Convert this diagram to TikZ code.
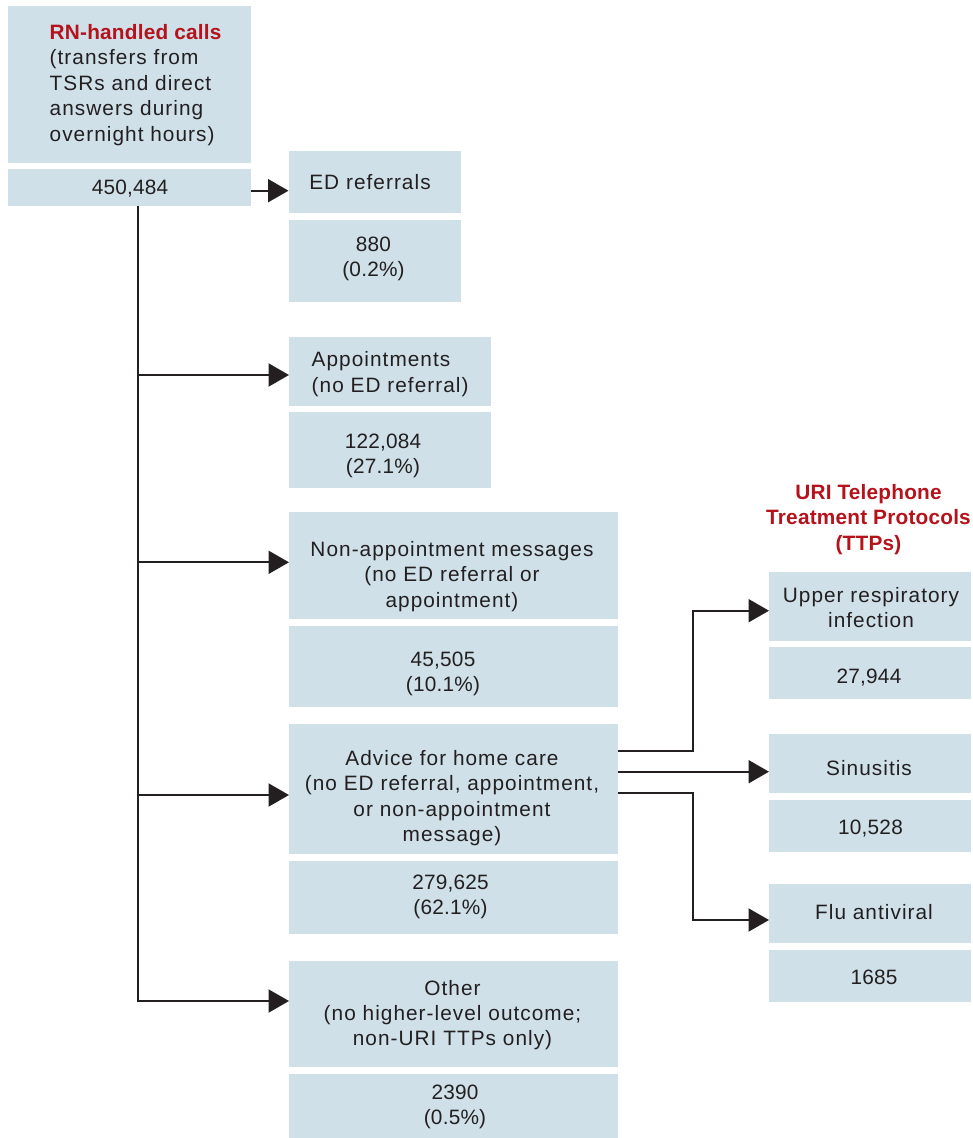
\documentclass[tikz,border=0pt]{standalone}
\usepackage{fontspec}
\usepackage{xcolor}
\usetikzlibrary{arrows.meta}
\setmainfont{Liberation Sans}
\newfontfamily\regf{Liberation Sans}[LetterSpace=5.0]
\newfontfamily\numf{Liberation Sans}[LetterSpace=1.0]
\newfontfamily\boldf{Liberation Sans}[LetterSpace=1.0]
\newcommand\fsz{\fontsize{20.8}{25.4}\selectfont}
\definecolor{ink}{RGB}{35,31,32}
\definecolor{boxblue}{RGB}{207,224,232}
\definecolor{headred}{RGB}{181,18,27}
\begin{document}
\begin{tikzpicture}[x=1pt,y=-1pt,
  box/.style={fill=boxblue, draw=none, inner sep=0pt, outer sep=0pt, anchor=north west},
  txt/.style={text=ink, inner sep=0pt, align=center, font=\regf\fsz},
  numtxt/.style={text=ink, inner sep=0pt, align=center, font=\numf\fsz},
  conn/.style={draw=ink, line width=2.1pt, -{Triangle[length=20.5pt,width=23pt]}}]
\useasboundingbox (0,0) rectangle (972,1138);

% boxes
\node[box, minimum width=242.7pt, minimum height=156.7pt] (top)  at (8,6) {};
\node[box, minimum width=242.7pt, minimum height=36.4pt]  (num0) at (8,169.3) {};
\node[box, minimum width=172.5pt, minimum height=62.3pt]  (ed)   at (288.5,151) {};
\node[box, minimum width=172.5pt, minimum height=81.7pt]  (edn)  at (288.5,220) {};
\node[box, minimum width=201.7pt, minimum height=69pt]    (ap)   at (289,336.7) {};
\node[box, minimum width=201.7pt, minimum height=75.4pt]  (apn)  at (289,412.3) {};
\node[box, minimum width=329pt, minimum height=107pt]     (na)   at (289,512) {};
\node[box, minimum width=329pt, minimum height=81.3pt]    (nan)  at (289,626) {};
\node[box, minimum width=329pt, minimum height=130.3pt]   (ad)   at (289,724) {};
\node[box, minimum width=329pt, minimum height=73pt]      (adn)  at (289,861) {};
\node[box, minimum width=329pt, minimum height=105.8pt]   (ot)   at (289,960.7) {};
\node[box, minimum width=329pt, minimum height=64.5pt]    (otn)  at (289,1073.5) {};
\node[box, minimum width=202pt, minimum height=69pt]      (ur)   at (769,571.7) {};
\node[box, minimum width=202pt, minimum height=52pt]      (urn)  at (769,647.3) {};
\node[box, minimum width=202pt, minimum height=59pt]      (si)   at (769,734) {};
\node[box, minimum width=202pt, minimum height=52pt]      (sin)  at (769,800) {};
\node[box, minimum width=202pt, minimum height=59pt]      (fl)   at (769,884) {};
\node[box, minimum width=202pt, minimum height=52pt]      (fln)  at (769,950) {};

% texts
\node[txt, align=left, anchor=west] (toptxt) at (49.5,85.3)
  {\strut{\boldf\bfseries\color{headred}RN-handled calls}\\(transfers from\\TSRs and direct\\answers during\\overnight hours)\strut};
\node[numtxt] (num0txt) at (130,189.9) {\strut 450,484\strut};
\node[txt] (edtxt) at (370,184.9) {\strut ED referrals\strut};
\node[numtxt] (edntxt) at (373.5,258.8) {\strut 880\\(0.2\%)\strut};
\node[txt, align=left, anchor=west] (aptxt) at (311.5,374.6) {\strut Appointments\\(no ED referral)\strut};
\node[numtxt] (apntxt) at (383,456.1) {\strut 122,084\\(27.1\%)\strut};
\node[txt] (natxt) at (452,576.6) {\strut Non-appointment messages\\(no ED referral or\\appointment)\strut};
\node[numtxt] (nantxt) at (443,673.8) {\strut 45,505\\(10.1\%)\strut};
\node[txt] (adtxt) at (452,798.3) {\strut Advice for home care\\(no ED referral, appointment,\\or non-appointment\\message)\strut};
\node[numtxt] (adntxt) at (450.5,896.9) {\strut 279,625\\(62.1\%)\strut};
\node[txt] (ottxt) at (452.5,1015.4) {\strut Other\\(no higher-level outcome;\\non-URI TTPs only)\strut};
\node[numtxt] (otntxt) at (455,1107) {\strut 2390\\(0.5\%)\strut};
\node[txt, font=\boldf\bfseries\fsz, text=headred] (uri) at (868.5,519.9)
  {\strut URI Telephone\\Treatment Protocols\\(TTPs)\strut};
\node[txt] (urtxt) at (871,610.2) {\strut Upper respiratory\\infection\strut};
\node[numtxt] (urntxt) at (869,678.2) {\strut 27,944\strut};
\node[txt] (sitxt) at (869,770.6) {\strut Sinusitis\strut};
\node[numtxt] (sintxt) at (870.5,829.2) {\strut 10,528\strut};
\node[txt] (fltxt) at (874,914.2) {\strut Flu antiviral\strut};
\node[numtxt] (flntxt) at (874,979.9) {\strut 1685\strut};

% connectors, left
\coordinate (trunk) at ([xshift=8.95pt]num0.south);
\coordinate (bap) at ([yshift=-3.8pt]ap.west);
\coordinate (bna) at ([yshift=3.2pt]na.west);
\coordinate (bad) at ([yshift=-5.85pt]ad.west);
\coordinate (bot) at ([yshift=12.6pt]ot.west);
\draw[conn] ([yshift=-3.2pt]num0.east) -- ([yshift=-3.2pt]num0.east -| ed.west);
\draw[conn] (trunk) |- (bot);
\draw[conn] (trunk |- bap) -- (bap);
\draw[conn] (trunk |- bna) -- (bna);
\draw[conn] (trunk |- bad) -- (bad);

% connectors, right
\draw[conn] ([yshift=38.45pt]ad.east) -| ([xshift=-75.7pt,yshift=-4.5pt]ur.west) -- ([yshift=-4.5pt]ur.west);
\draw[conn] ([yshift=17.45pt]ad.east) -- ([yshift=17.45pt]ad.east -| si.west);
\draw[conn] ([yshift=-3.55pt]ad.east) -| ([xshift=-75.7pt,yshift=-6.5pt]fl.west) -- ([yshift=-6.5pt]fl.west);
\end{tikzpicture}
\end{document}
